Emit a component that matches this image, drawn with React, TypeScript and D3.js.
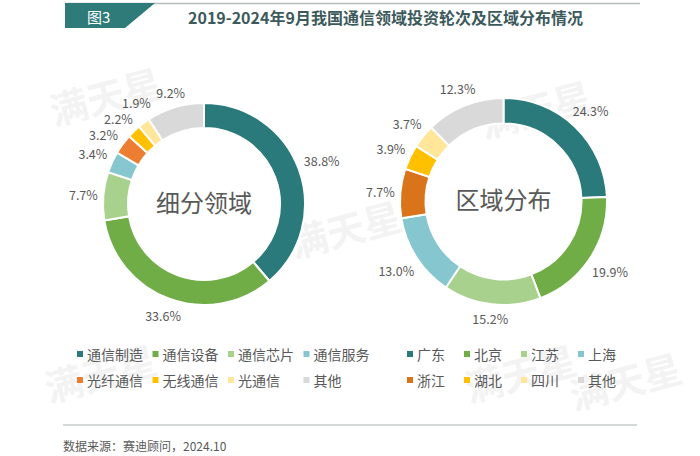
import React from 'react';
import * as d3 from 'd3';

const titleText = '2019-2024年9月我国通信领域投资轮次及区域分布情况';
const figLabel = '图3';
const sourceText = '数据来源：赛迪顾问，2024.10';

const sectorNames = ['通信制造', '通信设备', '通信芯片', '通信服务', '光纤通信', '无线通信', '光通信', '其他'];
const sectorValues = [38.8, 33.6, 7.7, 3.4, 3.2, 2.2, 1.9, 9.2];
const sectorColors = ['#2b7a7b', '#70ad47', '#a9d18e', '#86c7cf', '#ed7d31', '#ffc000', '#ffe699', '#d9d9d9'];

const regionNames = ['广东', '北京', '江苏', '上海', '浙江', '湖北', '四川', '其他'];
const regionValues = [24.3, 19.9, 15.2, 13.0, 7.7, 3.9, 3.7, 12.3];
const regionColors = ['#2b7a7b', '#70ad47', '#a9d18e', '#86c7cf', '#d9741a', '#ffc000', '#ffe699', '#d9d9d9'];

const FONT = '"Noto Sans CJK SC", "Noto Sans", sans-serif';
const LABEL_FS = 12.5;

function textWidth(s: string, fs: number) {
  let w = 0;
  for (const ch of s) {
    if (ch === '.') w += 0.3 * fs;
    else if (ch === '%') w += 0.88 * fs;
    else if (/[0-9]/.test(ch)) w += 0.57 * fs;
    else w += fs;
  }
  return w;
}

type DonutProps = {
  cx: number; cy: number; outer: number; inner: number;
  values: number[]; colors: string[]; center: string;
};

type Lab = { text: string; x: number; y: number; hw: number; hh: number };

function layoutLabels(arcs: d3.PieArcDatum<number>[], values: number[], outer: number): Lab[] {
  const labs: Lab[] = arcs.map((a, i) => {
    const mid = (a.startAngle + a.endAngle) / 2;
    const text = values[i].toFixed(1) + '%';
    const hw = textWidth(text, LABEL_FS) / 2;
    const hh = 7.5;
    const dist = outer + 5 + hw * Math.abs(Math.sin(mid)) + 7 * Math.abs(Math.cos(mid));
    return { text, x: dist * Math.sin(mid), y: -dist * Math.cos(mid), hw, hh };
  });
  // relaxation to remove overlaps between neighbouring labels
  for (let iter = 0; iter < 200; iter++) {
    let moved = false;
    for (let i = 0; i < labs.length; i++) {
      for (let j = i + 1; j < labs.length; j++) {
        const a = labs[i], b = labs[j];
        const ox = a.hw + b.hw + 2 - Math.abs(a.x - b.x);
        const oy = a.hh + b.hh + 1 - Math.abs(a.y - b.y);
        if (ox > 0 && oy > 0) {
          const sy = a.y < b.y ? -1 : 1;
          const sx = a.x < b.x ? -1 : 1;
          const d = 0.5;
          a.y += sy * d; b.y -= sy * d;
          a.x += sx * d * 0.8; b.x -= sx * d * 0.8;
          moved = true;
        }
      }
    }
    if (!moved) break;
  }
  return labs;
}

function Donut({ cx, cy, outer, inner, values, colors, center }: DonutProps) {
  const pie = d3.pie<number>().sort(null).value((d) => d);
  const arcs = pie(values);
  const arc = d3.arc<d3.PieArcDatum<number>>().innerRadius(inner).outerRadius(outer);
  const labs = layoutLabels(arcs, values, outer);
  return (
    <g transform={`translate(${cx},${cy})`}>
      {arcs.map((a, i) => (
        <path key={i} d={arc(a) || ''} fill={colors[i]} stroke="#fff" strokeWidth={2} />
      ))}
      {labs.map((l, i) => (
        <text key={'l' + i} x={l.x} y={l.y} textAnchor="middle" dominantBaseline="central"
          fontSize={LABEL_FS} fill="#595959" fontFamily={FONT}>{l.text}</text>
      ))}
      <text x={0} y={-3} textAnchor="middle" dominantBaseline="central" fontSize={24}
        fill="#595959" fontFamily={FONT}>{center}</text>
    </g>
  );
}

type LegendProps = { x0: number; step: number; y0: number; rowGap: number; names: string[]; colors: string[] };

function Legend({ x0, step, y0, rowGap, names, colors }: LegendProps) {
  return (
    <g>
      {names.map((n, i) => {
        const col = i % 4;
        const row = Math.floor(i / 4);
        const x = x0 + col * step;
        const y = y0 + row * rowGap;
        return (
          <g key={i}>
            <rect x={x} y={y - 3} width={6} height={6} fill={colors[i]} />
            <text x={x + 10} y={y} dominantBaseline="central" fontSize={14} fill="#595959" fontFamily={FONT}>{n}</text>
          </g>
        );
      })}
    </g>
  );
}

const watermarks = [
  { x: 105, y: 95 },
  { x: 345, y: 228 },
  { x: 535, y: 108 },
  { x: 100, y: 372 },
  { x: 520, y: 372 },
  { x: 625, y: 380 },
];

export default function App() {
  return (
    <svg width={700} height={456} style={{ position: 'absolute', left: 0, top: 0, background: '#fff' }}>
      <rect x={0} y={0} width={700} height={456} fill="#fff" />
      {watermarks.map((w, i) => (
        <text key={i} x={w.x} y={w.y} textAnchor="middle" dominantBaseline="central"
          fontSize={38} fontWeight={700} fill="#000" opacity={0.045} fontFamily={FONT}
          transform={`rotate(-15 ${w.x} ${w.y})`}>满天星</text>
      ))}
      {/* header */}
      <line x1={65} y1={3.5} x2={640} y2={3.5} stroke="#b5bcbc" strokeWidth={1.5} />
      <polygon points="65,3 155,3 125,28 65,28" fill="#2e7b79" />
      <text x={87} y={16} dominantBaseline="central" fontSize={15} fill="#fff" fontFamily={FONT}>{figLabel}</text>
      <text x={188} y={17} dominantBaseline="central" fontSize={16} fontWeight={700} fill="#3c5a5c" fontFamily={FONT}>{titleText}</text>

      <Donut cx={204} cy={204} outer={101} inner={76} values={sectorValues} colors={sectorColors} center="细分领域" />
      <Donut cx={503.5} cy={201.5} outer={103.5} inner={78} values={regionValues} colors={regionColors} center="区域分布" />

      <Legend x0={77} step={75.5} y0={354} rowGap={26} names={sectorNames} colors={sectorColors} />
      <Legend x0={407} step={57} y0={354} rowGap={26} names={regionNames} colors={regionColors} />

      {/* footer */}
      <line x1={63} y1={425} x2={637} y2={425} stroke="#c8cccc" strokeWidth={1.5} />
      <text x={63} y={445} dominantBaseline="central" fontSize={12} fill="#595959" fontFamily={FONT}>{sourceText}</text>
    </svg>
  );
}
